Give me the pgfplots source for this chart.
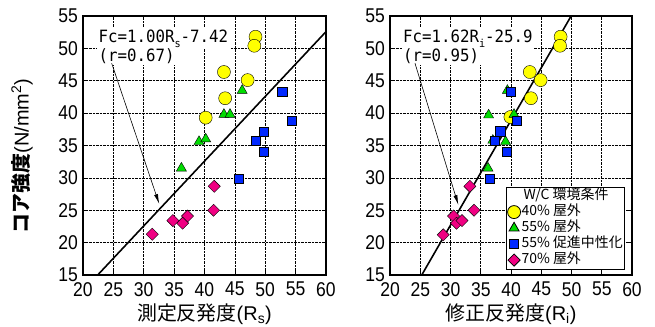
\documentclass[border=0pt]{standalone}
\usepackage{fontspec}
\setmainfont{Liberation Sans}
\newfontfamily\jp{Noto Sans CJK JP}
\newfontfamily\tickfont[FakeStretch=0.88]{Liberation Sans}
\newfontfamily\annfont[FakeStretch=0.93]{DejaVu Sans Mono}
\usepackage{pgfplots}
\pgfplotsset{compat=1.18}
\usetikzlibrary{arrows.meta}
\definecolor{cyellow}{RGB}{255,255,0}
\definecolor{cgreen}{RGB}{0,220,0}
\definecolor{cblue}{RGB}{0,40,255}
\definecolor{cpink}{RGB}{240,0,130}
\tikzset{ann/.style={fill=white, inner sep=1.5bp, anchor=base west, font=\annfont\fontsize{17}{19}\selectfont}}
\pgfplotsset{
  base/.style={
    scale only axis, width=243bp, height=259bp,
    xmin=20, xmax=60, ymin=15, ymax=55,
    xtick={20,25,...,60}, ytick={15,20,...,55},
    grid=major, major grid style={densely dotted, line width=0.6pt, black},
    axis line style={line width=1.3pt},
    tick style={black, line width=0.6pt}, tick align=inside, major tick length=4bp,
    /pgf/number format/assume math mode=true,
    tick label style={font=\tickfont\fontsize{20}{22}\selectfont, inner sep=1bp},
    xticklabel style={yshift=-6bp},
    yticklabel style={xshift=-4bp},
    xlabel style={font=\fontsize{20}{22}\selectfont, at={(axis description cs:0.5,-0.152)}, anchor=center},
    clip=true,
  },
  mk/.style={only marks, mark options={draw=black, line width=0.6pt},
    legend image code/.code={\draw[mark repeat=2,mark phase=2,##1] plot coordinates {(0bp,0bp)(7bp,0bp)(14bp,0bp)};}},
  sy/.style={mk, mark=*, mark size=6.5bp, mark options={fill=cyellow}},
  sg/.style={mk, mark=triangle*, mark size=5.8bp, mark options={fill=cgreen}},
  sb/.style={mk, mark=square*, mark size=4.6bp, mark options={fill=cblue}},
  sp/.style={mk, mark=square*, mark size=4.3bp, mark options={fill=cpink, rotate=45}},
}
\newcommand{\sub}[1]{\raisebox{-0.3em}{\fontsize{11}{11}\selectfont #1}}
\begin{document}
\begin{tikzpicture}
\path[use as bounding box] (0,0) rectangle (655bp,327bp);
% Left plot
\begin{axis}[base, at={(83bp,52bp)}, anchor=south west,
  xlabel={{\jp 測定反発度}(R\textsubscript{s})},
  ylabel={{\jp\bfseries コア強度}(N/mm\textsuperscript{2})},
  ylabel style={font=\fontsize{20}{22}\selectfont, at={(axis description cs:-0.251,0.46)}, anchor=center},
]
\addplot[sy] coordinates {(48.4,51.8)(48.2,50.4)(43.2,46.35)(47.1,45.1)(43.4,42.3)(40.2,39.3)};
\addplot[sg] coordinates {(46.2,43.5)(43.2,39.8)(44.2,39.8)(39.1,35.6)(40.2,36.0)(36.2,31.5)};
\addplot[sb] coordinates {(52.8,43.3)(54.4,38.8)(49.8,37.1)(48.4,35.7)(49.8,34.0)(45.6,29.9)};
\addplot[sp] coordinates {(41.6,28.7)(41.5,25.0)(37.2,24.1)(36.4,23.0)(34.8,23.4)(31.4,21.3)};
\addplot[black, line width=1.6pt, no marks] coordinates {(22.42,15)(60,52.58)};
\node[ann] at (axis cs:22.3,50.98) {Fc=1.00R\sub{s}-7.42};
\node[ann] at (axis cs:22.3,48.05) {(r=0.67)};
\draw[-{Latex[length=10bp,width=4bp]}, line width=0.6pt] (axis cs:24.72,47.7) -- (axis cs:32.55,25.96);
\end{axis}
% Right plot
\begin{axis}[base, at={(390bp,52bp)}, anchor=south west, width=242bp,
  xlabel={{\jp 修正反発度}(R\textsubscript{i})},
  legend cell align=left,
  legend style={at={(rel axis cs:0.478,0.341)}, anchor=north west, draw=black, line width=0.8pt,
    fill=white, font=\jp\fontsize{14}{15}\selectfont, inner sep=1bp, row sep=0pt,
    nodes={inner sep=1bp, text height=10.5bp, text depth=3.5bp}},
]
\addlegendimage{empty legend}
\addlegendentry{\hspace{2bp}W/C 環境条件}
\addplot[sy] coordinates {(48.2,51.8)(48.1,50.4)(43.1,46.35)(44.9,45.1)(43.3,42.3)(39.9,39.4)};
\addlegendentry{40\% 屋外}
\addplot[sg] coordinates {(39.4,43.5)(36.3,39.7)(40.5,39.8)(37.0,35.8)(39.1,35.6)(36.2,31.5)};
\addlegendentry{55\% 屋外}
\addplot[sb] coordinates {(40.0,43.3)(41.0,38.8)(38.2,37.2)(37.3,35.7)(39.3,34.0)(36.5,29.9)};
\addlegendentry{55\% 促進中性化}
\addplot[sp] coordinates {(33.2,28.7)(33.9,25.0)(30.5,24.1)(31.0,23.0)(31.9,23.4)(28.8,21.2)};
\addlegendentry{70\% 屋外}
\addplot[black, line width=1.6pt, no marks, forget plot] coordinates {(25.25,15)(49.94,55)};
\node[ann] at (axis cs:21.9,50.98) {Fc=1.62R\sub{i}-25.9};
\node[ann] at (axis cs:21.9,48.05) {(r=0.95)};
\draw[-{Latex[length=10bp,width=4bp]}, line width=0.6pt] (axis cs:24.13,47.7) -- (axis cs:31.3,25.8);
\end{axis}
\end{tikzpicture}
\end{document}
